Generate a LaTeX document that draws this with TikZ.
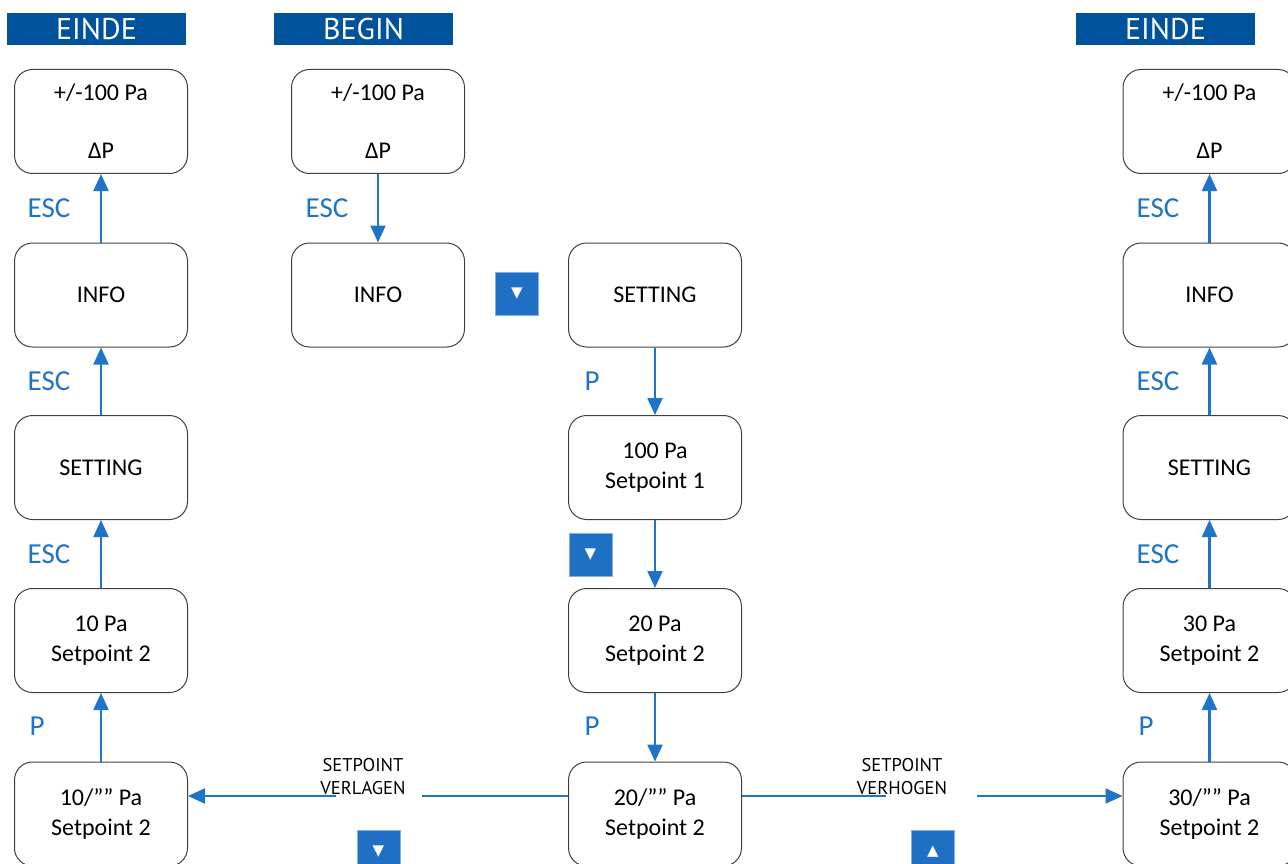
\documentclass[tikz,border=0pt]{standalone}
\usepackage{fontspec}
\setmainfont{Carlito}
\newfontfamily\ptsans{PT Sans}
\newfontfamily\djv{DejaVu Sans}
\usetikzlibrary{arrows.meta}
\definecolor{hdrblue}{HTML}{00529B}
\definecolor{arrowblue}{HTML}{2074C8}
\definecolor{keyblue}{HTML}{1F6FC5}
\begin{document}
\begin{tikzpicture}[x=1pt,y=-1pt,
  box/.style={draw=black!75, line width=1pt, rounded corners=18pt, minimum width=173pt, minimum height=104pt, align=center, inner sep=0pt, font=\fontsize{24}{30}\selectfont},
  hdr/.style={fill=hdrblue, text=white, minimum width=179pt, minimum height=32pt, inner sep=0pt, font=\ptsans\fontsize{30}{32}\selectfont},
  keybox/.style={fill=keyblue, draw=keyblue!55, line width=0.8pt, minimum size=43pt, inner sep=0pt, text=white, font=\djv\fontsize{15}{18}\selectfont},
  lab/.style={text=arrowblue, inner sep=0pt, font=\fontsize{29}{32}\selectfont},
  small/.style={align=center, inner sep=0pt, font=\ptsans\fontsize{18.5}{23}\selectfont},
  arr/.style={draw=arrowblue, line width=2.2pt, -{Triangle[width=15pt,length=17pt]}},
  ln/.style={draw=arrowblue, line width=2.2pt}]
\useasboundingbox (0,0) rectangle (1288,864);
% headers
\node[hdr] (h1) at (96.5,29) {EINDE};
\node[hdr] (h2) at (363.5,29) {BEGIN};
\node[hdr] (h3) at (1165.5,29) {EINDE};
% left column
\node[box] (L1) at (101,121.5) {+/-100 Pa\\[28pt]ΔP};
\node[box] (L2) at (101,295) {INFO};
\node[box] (L3) at (101,467.5) {SETTING};
\node[box] (L4) at (101,640.5) {10 Pa\\Setpoint 2};
\node[box] (L5) at (101,814) {10/”” Pa\\Setpoint 2};
% begin column
\node[box] (B1) at (378,121.5) {+/-100 Pa\\[28pt]ΔP};
\node[box] (B2) at (378,295) {INFO};
% middle column
\node[box] (C2) at (655,295) {SETTING};
\node[box] (C3) at (655,467.5) {100 Pa\\Setpoint 1};
\node[box] (C4) at (655,640.5) {20 Pa\\Setpoint 2};
\node[box] (C5) at (655,814) {20/”” Pa\\Setpoint 2};
% right column
\node[box] (R1) at (1209.5,121.5) {+/-100 Pa\\[28pt]ΔP};
\node[box] (R2) at (1209.5,295) {INFO};
\node[box] (R3) at (1209.5,467.5) {SETTING};
\node[box] (R4) at (1209.5,640.5) {30 Pa\\Setpoint 2};
\node[box] (R5) at (1209.5,814) {30/”” Pa\\Setpoint 2};
% keys
\node[keybox] (k1) at (517,294) {▼};
\node[keybox] (k2) at (590.5,554.5) {▼};
\node[keybox] (k3) at (378.5,852) {▼};
\node[keybox] (k4) at (933,852) {▲};
% labels
\node[lab] (e1) at (49,208) {ESC};
\node[lab] (e2) at (49,381) {ESC};
\node[lab] (e3) at (49,554) {ESC};
\node[lab] (p1) at (37,726) {P};
\node[lab] (e4) at (327,208) {ESC};
\node[lab] (p2) at (592,381) {P};
\node[lab] (p3) at (592,726) {P};
\node[lab] (e5) at (1158,208) {ESC};
\node[lab] (e6) at (1158,381) {ESC};
\node[lab] (e7) at (1158,554) {ESC};
\node[lab] (p4) at (1146,726) {P};
\node[small] (sv) at (363,777) {SETPOINT\\VERLAGEN};
\node[small] (sh) at (902,777) {SETPOINT\\VERHOGEN};
% connectors
\draw[arr] (L2) -- (L1);
\draw[arr] (L3) -- (L2);
\draw[arr] (L4) -- (L3);
\draw[arr] (L5) -- (L4);
\draw[arr] (B1) -- (B2);
\draw[arr] (C2) -- (C3);
\draw[arr] (C3) -- (C4);
\draw[arr] (C4) -- (C5);
\draw[arr] (R2) -- (R1);
\draw[arr] (R3) -- (R2);
\draw[arr] (R4) -- (R3);
\draw[arr] (R5) -- (R4);
\coordinate (gl1) at (422,796);
\coordinate (gl2) at (336,796);
\coordinate (gr1) at (886,796);
\coordinate (gr2) at (977,796);
\draw[ln] ([yshift=18pt]C5.west) -- (gl1);
\draw[arr] (gl2) -- ([yshift=18pt]L5.east);
\draw[ln] ([yshift=18pt]C5.east) -- (gr1);
\draw[arr] (gr2) -- ([yshift=18pt]R5.west);
\end{tikzpicture}
\end{document}
